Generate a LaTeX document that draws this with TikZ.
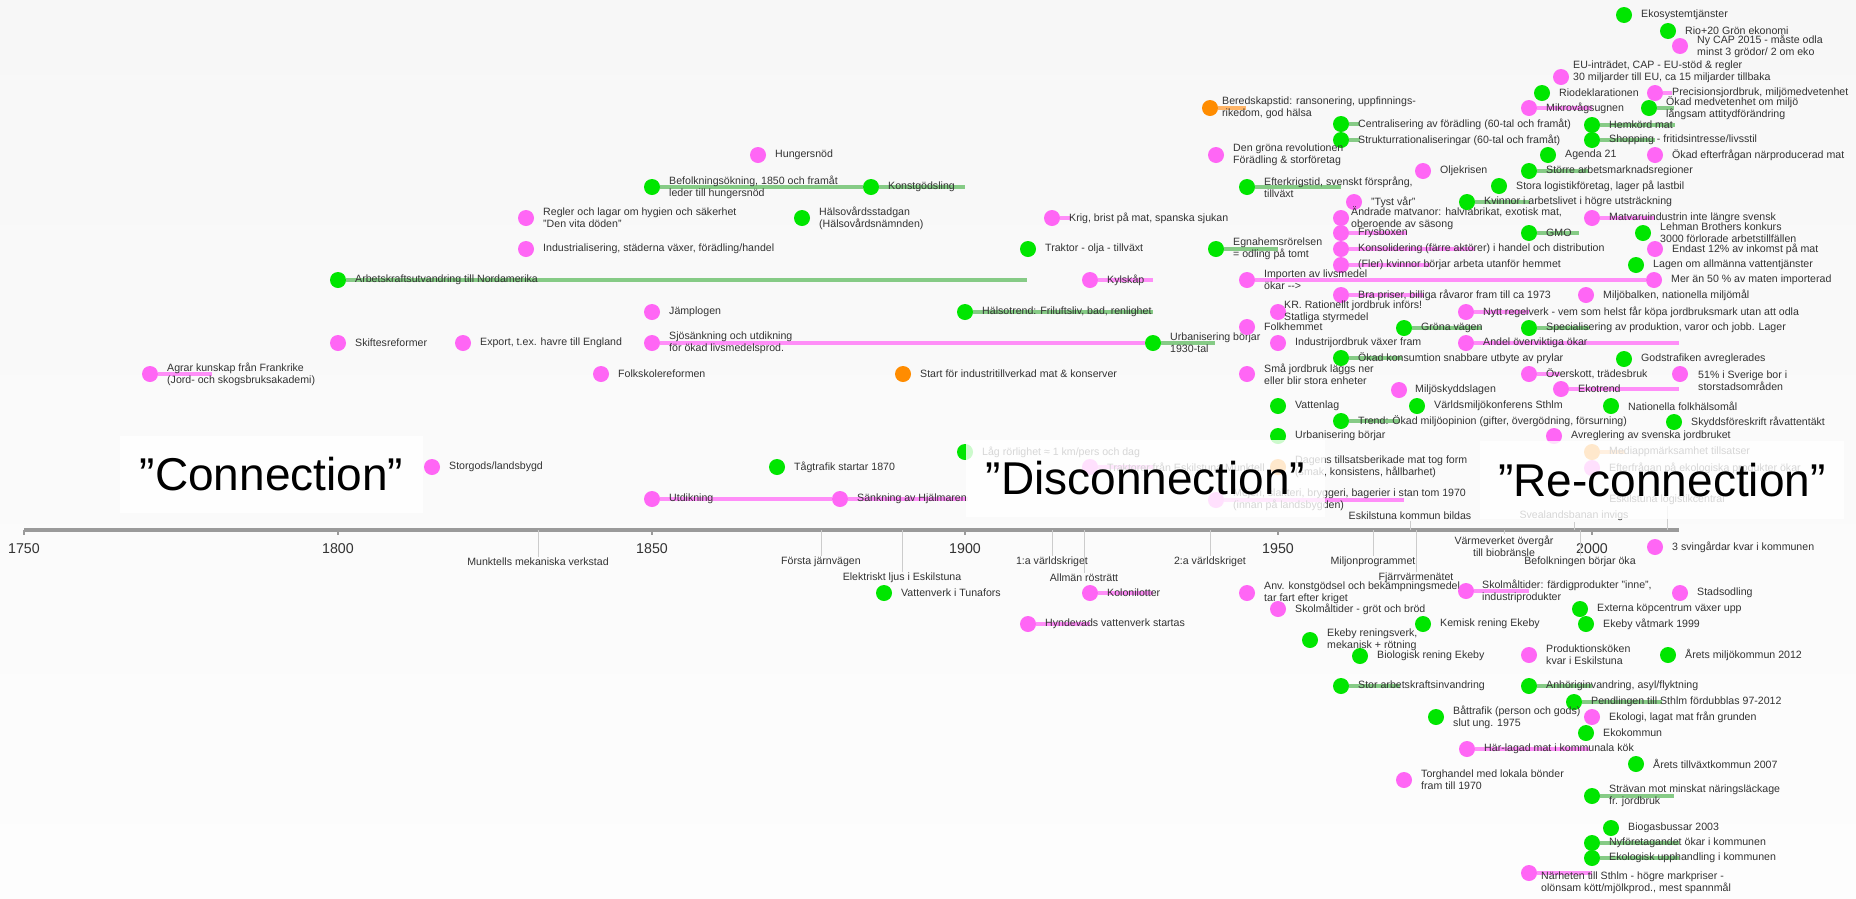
\documentclass[tikz,border=0pt]{standalone}
\usepackage{fontspec}
\setmainfont{Liberation Sans}
\usetikzlibrary{calc}
\pgfdeclarelayer{bg}
\pgfdeclarelayer{bars}
\pgfsetlayers{bg,bars,main}
\definecolor{pk}{HTML}{FF66F5}
\definecolor{gn}{HTML}{00E600}
\definecolor{og}{HTML}{FF8C00}
\definecolor{pkbar}{HTML}{FF8EF8}
\definecolor{gnbar}{HTML}{86CB86}
\definecolor{ogbar}{HTML}{FFB466}
\definecolor{txt}{HTML}{333333}
\definecolor{axc}{HTML}{9A9A9A}
\definecolor{tickc}{HTML}{CCCCCC}
\tikzset{
  dot/.style={circle, inner sep=0pt, minimum size=16pt},
  pdot/.style={dot, fill=pk},
  gdot/.style={dot, fill=gn},
  odot/.style={dot, fill=og},
  lbl/.style={anchor=west, inner sep=0pt, text=txt, font=\fontsize{10.6}{12.3}\selectfont, align=left},
  alb/.style={inner sep=1pt, text=txt, font=\fontsize{10.6}{12.3}\selectfont, align=center},
  yearlbl/.style={inner sep=0pt, text=txt, font=\fontsize{14.2}{16}\selectfont},
  pbar/.style={draw=pkbar, line width=4pt},
  gbar/.style={draw=gnbar, line width=4pt},
  obar/.style={draw=ogbar, line width=4pt},
  axisline/.style={draw=axc, line width=4pt},
  tickline/.style={draw=tickc, line width=0.8pt},
  bigbox/.style={fill=white, fill opacity=0.8, text opacity=1, inner sep=0pt, text=black, font=\fontsize{46}{50}\selectfont},
}
\newcommand\evt[6][17]{%
  \node[#3dot] (#2) at (#4,#5) {};
  \node[lbl] (#2t) at ($(#2)+(#1,0)$) {#6};}
\newcommand\evtat[7]{%
  \node[#2dot] (#1) at (#3,#4) {};
  \node[lbl] (#1t) at (#5,#6) {#7};}
\newcommand\ebar[3]{%
  \coordinate (#2e) at (#3,0 |- #2);
  \draw[#1bar] (#2) -- (#2e);}
\newcommand\axb[4]{%
  \coordinate (#1a) at (#2,530);
  \node[alb] (#1) at (#2,#3) {#4};
  \draw[tickline] (#1a) -- (#1.north);}
\newcommand\axa[4]{%
  \coordinate (#1a) at (#2,530);
  \node[alb] (#1) at (#2,#3) {#4};
  \draw[tickline] (#1a) -- (#1.south);}
\begin{document}
\begin{tikzpicture}[x=1pt,y=-1pt]
\useasboundingbox (0,0) rectangle (1856,898);
\begin{pgfonlayer}{bg}
\shade[top color={rgb,255:red,247;green,247;blue,247}, middle color={rgb,255:red,240;green,240;blue,240}, bottom color={rgb,255:red,253;green,253;blue,253}] (0,0) rectangle (1856,898);
\end{pgfonlayer}

% ---------- axis ----------
\coordinate (ax0) at (24,530);
\coordinate (ax1) at (1679,530);
\draw[axisline] (ax0) -- (ax1);
\foreach \yr/\xx in {1750/24,1800/338,1850/652,1900/965,1950/1278,2000/1592}{
  \coordinate (t\yr) at (\xx,530);
  \draw[draw=axc, line width=2pt] (t\yr) -- ++(0,5);
  \node[yearlbl] (y\yr) at (\xx,549) {\yr};
}
\axb{ae1}{538}{562}{Munktells mekaniska verkstad}
\axb{ae2}{821}{562}{Första järnvägen}
\axb{ae3}{902}{578}{Elektriskt ljus i Eskilstuna}
\axb{ae4}{1052}{562}{1:a världskriget}
\axb{ae5}{1084}{578}{Allmän rösträtt}
\axb{ae6}{1210}{562}{2:a världskriget}
\axb{ae7}{1373}{562}{Miljonprogrammet}
\axb{ae8}{1416}{578}{Fjärrvärmenätet}
\axb{ae9}{1504}{546}{Värmeverket övergår\\till biobränsle}
\axb{ae10}{1580}{562}{Befolkningen börjar öka}
\axa{aa1}{1410}{516}{Eskilstuna kommun bildas}
\axa{aa2}{1574}{516}{Svealandsbanan invigs}
\axa{aa3}{1667}{500}{Eskilstuna logistikcentral}

% ---------- events above axis (left/top) ----------
\evt{g1}{g}{338}{280}{Arbetskraftsutvandring till Nordamerika}
\evt{p1}{p}{758}{155}{Hungersnöd}
\evt{g2}{g}{652}{187}{Befolkningsökning, 1850 och framåt\\leder till hungersnöd}
\evt{g3}{g}{871}{187}{Konstgödsling}
\evt{p2}{p}{526}{218}{Regler och lagar om hygien och säkerhet\\"Den vita döden"}
\evt{g4}{g}{802}{218}{Hälsovårdsstadgan\\(Hälsovårdsnämnden)}
\evt{p3}{p}{526}{249}{Industrialisering, städerna växer, förädling/handel}
\evt[12]{o1}{o}{1210}{108}{Beredskapstid: ransonering, uppfinnings-\\rikedom, god hälsa}
\evt{g5}{g}{1341}{124}{Centralisering av förädling (60-tal och framåt)}
\evt{g6}{g}{1341}{140}{Strukturrationaliseringar (60-tal och framåt)}
\evt{p4}{p}{1216}{155}{Den gröna revolutionen\\Förädling \& storföretag}
\evt{g7}{g}{1247}{187}{Efterkrigstid, svenskt försprång,\\tillväxt}
\evt{p5}{p}{1354}{202}{"Tyst vår"}
\evt[10]{p6}{p}{1341}{218}{Ändrade matvanor: halvfabrikat, exotisk mat,\\oberoende av säsong}
\evt{p7}{p}{1341}{233}{Frysboxen}
\evt{p8}{p}{1341}{249}{Konsolidering (färre aktörer) i handel och distribution}
\evt{p9}{p}{1341}{265}{(Fler) kvinnor börjar arbeta utanför hemmet}
\evt{p10}{p}{1052}{218}{Krig, brist på mat, spanska sjukan}
\evt{g8}{g}{1028}{249}{Traktor - olja - tillväxt}
\evt{g9}{g}{1216}{249}{Egnahemsrörelsen\\= odling på tomt}
\evt{p11}{p}{1090}{280}{Kylskåp}
\evt{p12}{p}{1247}{280}{Importen av livsmedel\\ökar -{}->}
\evt{p14}{p}{1341}{295}{Bra priser, billiga råvaror fram till ca 1973}

\evt{g10}{g}{1624}{15}{Ekosystemtjänster}
\evt{g11}{g}{1668}{31}{Rio+20 Grön ekonomi}
\evt{p15}{p}{1680}{46}{Ny CAP 2015 - måste odla\\minst 3 grödor/ 2 om eko}
\evtat{p16}{p}{1561}{77}{1573}{72}{EU-inträdet, CAP - EU-stöd \& regler\\30 miljarder till EU, ca 15 miljarder tillbaka}
\evt{g12}{g}{1542}{93}{Riodeklarationen}
\evt{p17}{p}{1655}{93}{Precisionsjordbruk, miljömedvetenhet}
\evt{p18}{p}{1529}{108}{Mikrovågsugnen}
\evt{g13}{g}{1649}{108}{Ökad medvetenhet om miljö\\långsam attitydförändring}
\evt{g14}{g}{1592}{125}{Hemkörd mat}
\evt{g15}{g}{1592}{140}{Shopping - fritidsintresse/livsstil}
\evt{g16}{g}{1548}{155}{Agenda 21}
\evt{p19}{p}{1655}{155}{Ökad efterfrågan närproducerad mat}
\evt{p20}{p}{1423}{171}{Oljekrisen}
\evt{g17}{g}{1529}{171}{Större arbetsmarknadsregioner}
\evt{g18}{g}{1499}{186}{Stora logistikföretag, lager på lastbil}
\evt{g19}{g}{1467}{202}{Kvinnor i arbetslivet i högre utsträckning}
\evt{p21}{p}{1592}{218}{Matvaruindustrin inte längre svensk}
\evt{g20}{g}{1529}{233}{GMO}
\evt{g21}{g}{1643}{233}{Lehman Brothers konkurs\\3000 förlorade arbetstillfällen}
\evt{p22}{p}{1655}{249}{Endast 12\% av inkomst på mat}
\evt{g22}{g}{1636}{265}{Lagen om allmänna vattentjänster}
\evt{p13}{p}{1654}{280}{Mer än 50 \% av maten importerad}
\evt{p23}{p}{1586}{295}{Miljöbalken, nationella miljömål}

% ---------- middle band ----------
\evt{p24}{p}{652}{312}{Jämplogen}
\evt{p25}{p}{463}{343}{Export, t.ex. havre till England}
\evt{p26}{p}{338}{343}{Skiftesreformer}
\evt{p27}{p}{150}{374}{Agrar kunskap från Frankrike\\(Jord- och skogsbruksakademi)}
\evt{p28}{p}{652}{343}{Sjösänkning och utdikning\\för ökad livsmedelsprod.}
\evt{g23}{g}{1153}{343}{Urbanisering börjar\\1930-tal}
\evt{p29}{p}{601}{374}{Folkskolereformen}
\evt{o2}{o}{903}{374}{Start för industritillverkad mat \& konserver}
\evt{p30}{p}{432}{467}{Storgods/landsbygd}
\evt{g24}{g}{777}{467}{Tågtrafik startar 1870}
\evt{p31}{p}{652}{499}{Utdikning}
\evt{p32}{p}{840}{499}{Sänkning av Hjälmaren}
\evt{g25}{g}{965}{312}{Hälsotrend: Friluftsliv, bad, renlighet}
\evt[6]{p33}{p}{1278}{312}{KR. Rationellt jordbruk införs!\\Statliga styrmedel}
\evt{p34}{p}{1247}{327}{Folkhemmet}
\evt{p35}{p}{1278}{343}{Industrijordbruk växer fram}
\evt{g26}{g}{1341}{358}{Ökad konsumtion snabbare utbyte av prylar}
\evt{p36}{p}{1247}{374}{Små jordbruk läggs ner\\eller blir stora enheter}
\evt{g27}{g}{1278}{406}{Vattenlag}
\evt{g28}{g}{1341}{421}{Trend: Ökad miljöopinion (gifter, övergödning, försurning)}
\evt{g29}{g}{1278}{436}{Urbanisering börjar}
\evt{g30}{g}{965}{452}{Låg rörlighet ≈ 1 km/pers och dag}
\evt{p37}{p}{1090}{467}{Traktorer från Eskilstuna Munktell}
\evt{o3}{o}{1278}{467}{Dagens tillsatsberikade mat tog form\\(smak, konsistens, hållbarhet)}
\evt{p38}{p}{1216}{500}{Mejeri, slakteri, bryggeri, bagerier i stan tom 1970\\(innan på landsbygden)}

\evt{p39}{p}{1466}{312}{Nytt regelverk - vem som helst får köpa jordbruksmark utan att odla}
\evt{g31}{g}{1404}{328}{Gröna vägen}
\evt{g32}{g}{1529}{328}{Specialisering av produktion, varor och jobb. Lager}
\evt{p40}{p}{1466}{343}{Andel överviktiga ökar}
\evt{g33}{g}{1624}{359}{Godstrafiken avreglerades}
\evt{p41}{p}{1529}{374}{Överskott, trädesbruk}
\evtat{p42}{p}{1680}{374}{1698}{381}{51\% i Sverige bor i\\storstadsområden}
\evt{p43}{p}{1561}{389}{Ekotrend}
\evt[16]{p44}{p}{1399}{390}{Miljöskyddslagen}
\evt{g34}{g}{1417}{406}{Världsmiljökonferens Sthlm}
\evt{g35}{g}{1611}{406}{Nationella folkhälsomål}
\evt{g36}{g}{1674}{422}{Skyddsföreskrift råvattentäkt}
\evt{p45}{p}{1554}{436}{Avreglering av svenska jordbruket}
\evt{o4}{o}{1592}{452}{Mediappmärksamhet tillsatser}
\evt{p46}{p}{1592}{468}{Efterfrågan på ekologiska produkter ökar}

% ---------- below axis ----------
\evt{g37}{g}{884}{593}{Vattenverk i Tunafors}
\evt{p48}{p}{1090}{593}{Kolonilotter}
\evt{p49}{p}{1247}{593}{Anv. konstgödsel och bekämpningsmedel\\tar fart efter kriget}
\evt[16]{p50}{p}{1466}{591}{Skolmåltider: färdigprodukter "inne",\\industriprodukter}
\evt{p51}{p}{1655}{547}{3 svingårdar kvar i kommunen}
\evt{p52}{p}{1680}{593}{Stadsodling}
\evt{p53}{p}{1028}{624}{Hyndevads vattenverk startas}
\evt{p54}{p}{1278}{609}{Skolmåltider - gröt och bröd}
\evt{g38}{g}{1310}{640}{Ekeby reningsverk,\\mekanisk + rötning}
\evt{g39}{g}{1360}{656}{Biologisk rening Ekeby}
\evt{g40}{g}{1341}{686}{Stor arbetskraftsinvandring}
\evt{g41}{g}{1580}{609}{Externa köpcentrum växer upp}
\evt{g42}{g}{1423}{624}{Kemisk rening Ekeby}
\evt{g43}{g}{1586}{624}{Ekeby våtmark 1999}
\evt{p55}{p}{1529}{655}{Produktionsköken\\kvar i Eskilstuna}
\evt{g44}{g}{1668}{655}{Årets miljökommun 2012}
\evt{g45}{g}{1529}{686}{Anhöriginvandring, asyl/flyktning}
\evt{g46}{g}{1574}{702}{Pendlingen till Sthlm fördubblas 97-2012}
\evt{g47}{g}{1436}{717}{Båttrafik (person och gods)\\slut ung. 1975}
\evt{p56}{p}{1592}{717}{Ekologi, lagat mat från grunden}
\evt{g48}{g}{1586}{733}{Ekokommun}
\evt{p57}{p}{1467}{749}{Här-lagad mat i kommunala kök}
\evt{g49}{g}{1636}{764}{Årets tillväxtkommun 2007}
\evt{p58}{p}{1404}{780}{Torghandel med lokala bönder\\fram till 1970}
\evt{g50}{g}{1592}{796}{Strävan mot minskat näringsläckage\\fr. jordbruk}
\evt{g51}{g}{1611}{828}{Biogasbussar 2003}
\evt{g52}{g}{1592}{843}{Nyföretagandet ökar i kommunen}
\evt{g53}{g}{1592}{858}{Ekologisk upphandling i kommunen}
\evtat{p59}{p}{1529}{873}{1541}{883}{Närheten till Sthlm - högre markpriser -\\olönsam kött/mjölkprod., mest spannmål}

% ---------- bars ----------
\begin{pgfonlayer}{bars}
\ebar{g}{g1}{1027}
\draw[gbar] (g2) -- (g3);
\ebar{g}{g3}{965}
\ebar{o}{o1}{1246}
\ebar{g}{g5}{1360}
\ebar{g}{g6}{1360}
\ebar{g}{g7}{1341}
\ebar{p}{p7}{1407}
\ebar{p}{p8}{1475}
\ebar{p}{p9}{1430}
\ebar{p}{p10}{1071}
\ebar{g}{g9}{1278}
\ebar{p}{p11}{1153}
\draw[pbar] (p12) -- (p13);
\ebar{p}{p14}{1424}
\ebar{p}{p17}{1672}
\ebar{p}{p18}{1592}
\ebar{g}{g13}{1674}
\ebar{g}{g14}{1675}
\ebar{g}{g15}{1655}
\ebar{g}{g17}{1589}
\ebar{g}{g19}{1530}
\ebar{p}{p21}{1655}
\ebar{g}{g20}{1579}
\ebar{p}{p27}{212}
\draw[pbar] (p28) -- (g23);
\ebar{g}{g23}{1215}
\draw[pbar] (p31) -- (p32);
\ebar{p}{p32}{968}
\ebar{g}{g25}{1153}
\ebar{g}{g26}{1402}
\ebar{g}{g28}{1400}
\ebar{p}{p37}{1153}
\ebar{p}{p38}{1404}
\ebar{p}{p39}{1529}
\ebar{g}{g31}{1482}
\ebar{g}{g32}{1589}
\ebar{p}{p40}{1679}
\ebar{p}{p41}{1560}
\ebar{p}{p43}{1679}
\ebar{o}{o4}{1625}
\ebar{p}{p48}{1153}
\ebar{p}{p50}{1529}
\ebar{p}{p53}{1090}
\ebar{g}{g40}{1400}
\ebar{g}{g45}{1592}
\ebar{g}{g46}{1662}
\ebar{p}{p57}{1589}
\ebar{g}{g50}{1674}
\ebar{g}{g52}{1679}
\ebar{g}{g53}{1679}
\ebar{p}{p59}{1592}
\end{pgfonlayer}

% ---------- period boxes ----------
\node[bigbox, minimum width=303pt, minimum height=77pt] (conn) at (271.5,474.5) {”Connection”};
\node[bigbox, minimum width=359pt, minimum height=77pt] (disc) at (1145.5,478.5) {”Disconnection”};
\node[bigbox, minimum width=364pt, minimum height=78pt] (reconn) at (1662,480) {”Re-connection”};
\end{tikzpicture}
\end{document}
